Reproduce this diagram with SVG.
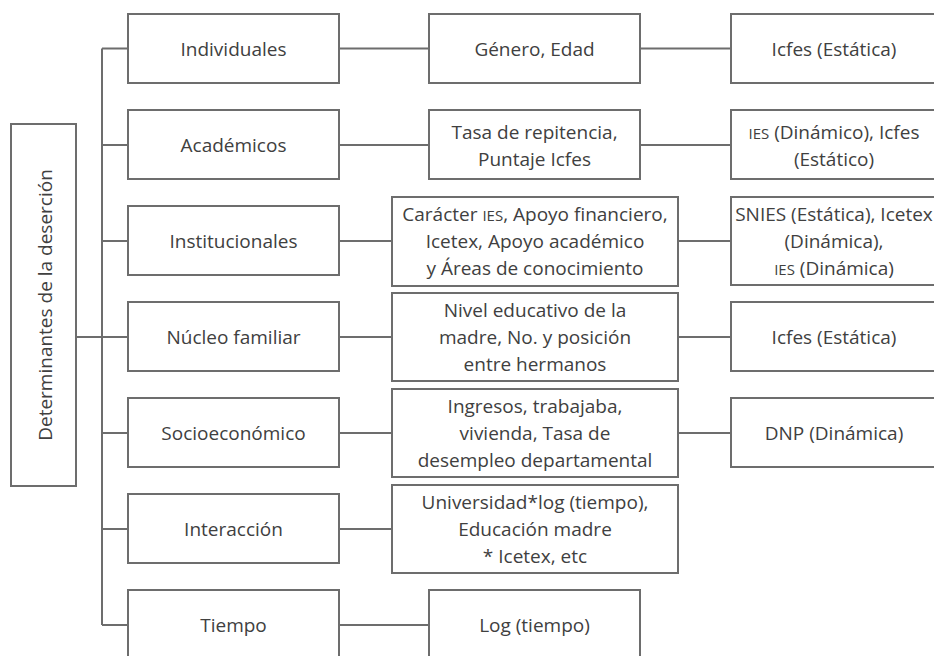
<svg xmlns="http://www.w3.org/2000/svg" width="934" height="656" viewBox="0 0 934 656">
<style>
.box{fill:#fff;stroke:#6d6d6d;stroke-width:2}
.ln{fill:none;stroke:#6d6d6d;stroke-width:2}
text{font-family:"Open Sans","Liberation Sans",sans-serif;font-size:19px;fill:#404040;text-anchor:middle}
.sc{font-size:15px}
</style>
<rect width="934" height="656" fill="#fff"/>
<g id="connectors">
<path class="ln" d="M76 337H102M102 48.5V625M102 48.5H128M102 145H128M102 241H128M102 337H128M102 433H128M102 529H128M102 625H128"/>
<path class="ln" d="M339 48.5H429M640 48.5H731M339 145H429M640 145H731M339 241H392M678 241H731M339 337H392M678 337H731M339 433H392M678 433H731M339 529H392M339 625H429"/>
</g>
<g id="root"><rect class="box" x="11" y="124" width="65" height="362"/><text transform="translate(52,305) rotate(-90)" x="0" y="0">Determinantes de la deserción</text></g>
<g id="individuales"><rect class="box" x="128" y="14" width="211" height="69"/><text x="233.5" y="56">Individuales</text></g>
<g id="academicos"><rect class="box" x="128" y="110" width="211" height="69"/><text x="233.5" y="152">Académicos</text></g>
<g id="institucionales"><rect class="box" x="128" y="206" width="211" height="69"/><text x="233.5" y="248">Institucionales</text></g>
<g id="nucleo"><rect class="box" x="128" y="302" width="211" height="69"/><text x="233.5" y="344">Núcleo familiar</text></g>
<g id="socio"><rect class="box" x="128" y="398" width="211" height="69"/><text x="233.5" y="440">Socioeconómico</text></g>
<g id="interaccion"><rect class="box" x="128" y="494" width="211" height="69"/><text x="233.5" y="536">Interacción</text></g>
<g id="tiempo"><rect class="box" x="128" y="590" width="211" height="69"/><text x="233.5" y="632">Tiempo</text></g>
<g id="genero"><rect class="box" x="429" y="14" width="211" height="69"/><text x="534.5" y="56">Género, Edad</text></g>
<g id="tasa"><rect class="box" x="429" y="110" width="211" height="69"/><text x="534.5" y="139">Tasa de repitencia,</text><text x="534.5" y="166">Puntaje Icfes</text></g>
<g id="caracter"><rect class="box" x="392" y="197" width="286" height="89"/><text x="535" y="221">Carácter <tspan class="sc">IES</tspan>, Apoyo financiero,</text><text x="535" y="248">Icetex, Apoyo académico</text><text x="535" y="275">y Áreas de conocimiento</text></g>
<g id="nivel"><rect class="box" x="392" y="293" width="286" height="88"/><text x="535" y="317">Nivel educativo de la</text><text x="535" y="344">madre, No. y posición</text><text x="535" y="371">entre hermanos</text></g>
<g id="ingresos"><rect class="box" x="392" y="389" width="286" height="88"/><text x="535" y="413">Ingresos, trabajaba,</text><text x="535" y="440">vivienda, Tasa de</text><text x="535" y="467">desempleo departamental</text></g>
<g id="universidad"><rect class="box" x="392" y="485" width="286" height="88"/><text x="535" y="509">Universidad*log (tiempo),</text><text x="535" y="536">Educación madre</text><text x="535" y="563">* Icetex, etc</text></g>
<g id="logtiempo"><rect class="box" x="429" y="590" width="211" height="69"/><text x="534.5" y="632">Log (tiempo)</text></g>
<g id="icfes1"><rect class="box" x="731" y="14" width="215" height="69"/><text x="834" y="56">Icfes (Estática)</text></g>
<g id="ies1"><rect class="box" x="731" y="110" width="215" height="69"/><text x="834" y="139"><tspan class="sc">IES</tspan> (Dinámico), Icfes</text><text x="834" y="166">(Estático)</text></g>
<g id="snies"><rect class="box" x="731" y="197" width="215" height="88"/><text x="834" y="221">SNIES (Estática), Icetex</text><text x="834" y="248">(Dinámica),</text><text x="834" y="275"><tspan class="sc">IES</tspan> (Dinámica)</text></g>
<g id="icfes2"><rect class="box" x="731" y="302" width="215" height="69"/><text x="834" y="344">Icfes (Estática)</text></g>
<g id="dnp"><rect class="box" x="731" y="398" width="215" height="69"/><text x="834" y="440">DNP (Dinámica)</text></g>
</svg>
